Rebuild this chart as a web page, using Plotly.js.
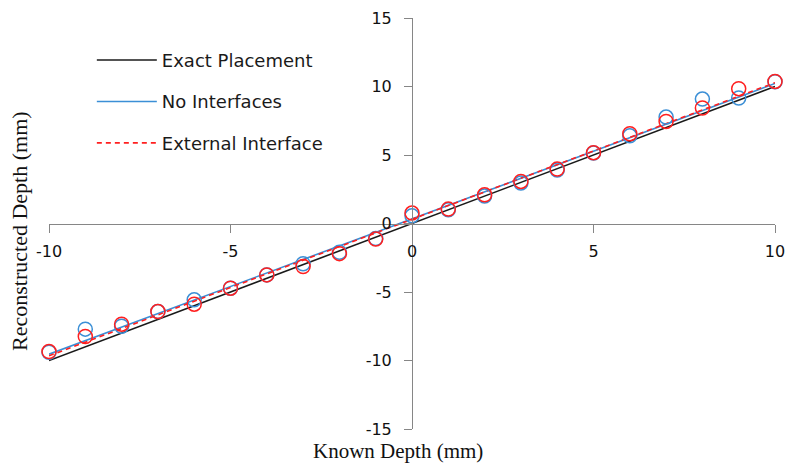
<!DOCTYPE html>
<html>
<head>
<meta charset="utf-8">
<script src="https://cdn.plot.ly/plotly-3.0.1.min.js"></script>
<style>
  html, body { margin: 0; padding: 0; background: #ffffff; }
  #chart { width: 791px; height: 469px; }
</style>
</head>
<body>
<div id="chart"></div>
<script>
// Known source depths (mm)
const knownDepth = [-10, -9, -8, -7, -6, -5, -4, -3, -2, -1, 0, 1, 2, 3, 4, 5, 6, 7, 8, 9, 10];

// Reconstructed depths (mm) without interfaces
const noInterfaces = [-9.40, -7.71, -7.50, -6.43, -5.57, -4.72, -3.75, -2.94, -2.10, -1.10, 0.56,
                      1.00, 2.00, 2.95, 3.90, 5.14, 6.40, 7.77, 9.08, 9.16, 10.35];

// Reconstructed depths (mm) with an external interface
const externalInterface = [-9.35, -8.25, -7.35, -6.43, -5.89, -4.72, -3.75, -3.14, -2.20, -1.14, 0.76,
                           1.05, 2.10, 3.07, 3.97, 5.17, 6.55, 7.45, 8.43, 9.84, 10.37];

// Reference and fitted lines, given by their end points
const lineX = [-10, 10];
const exactLine = [-10, 10];
const noInterfacesFit = [-9.54, 10.22];
const externalInterfaceFit = [-9.66, 10.28];

// Axis ticks (labels use a plain hyphen for negatives)
const xTicks = [-10, -5, 0, 5, 10];
const yTicks = [-15, -10, -5, 0, 5, 10, 15];
const xTickText = xTicks.map(String);
const yTickText = yTicks.map(String);

const BLUE = '#3b8fd6';
const RED = '#ff1f1f';
const AXIS = '#868686';
const SANS = 'DejaVu Sans, Verdana, sans-serif';
const SERIF = 'Liberation Serif, Times New Roman, serif';

const traces = [
  { x: lineX, y: exactLine, mode: 'lines', name: 'Exact Placement', legendgroup: 'a',
    line: { color: '#1a1a1a', width: 1.6 } },
  { x: lineX, y: noInterfacesFit, mode: 'lines', name: 'No Interfaces', legendgroup: 'b',
    line: { color: BLUE, width: 1.6 } },
  { x: lineX, y: externalInterfaceFit, mode: 'lines', name: 'External Interface', legendgroup: 'c',
    line: { color: RED, width: 1.6, dash: '5px,4px' } },
  { x: knownDepth, y: noInterfaces, mode: 'markers', showlegend: false, cliponaxis: false,
    marker: { symbol: 'circle-open', size: 14, color: BLUE, line: { width: 1.5 } } },
  { x: knownDepth, y: externalInterface, mode: 'markers', showlegend: false, cliponaxis: false,
    marker: { symbol: 'circle-open', size: 14, color: RED, line: { width: 1.5 } } }
];

const layout = {
  width: 791,
  height: 469,
  margin: { l: 49, r: 16, t: 18, b: 40, pad: 0 },
  paper_bgcolor: '#ffffff',
  plot_bgcolor: '#ffffff',
  showlegend: true,
  legend: {
    x: 0.059, y: 0.942, xanchor: 'left', yanchor: 'top',
    font: { family: SANS, size: 18, color: '#1a1a1a' },
    tracegroupgap: 15,
    itemwidth: 60,
    bgcolor: 'rgba(0,0,0,0)'
  },
  xaxis: {
    range: [-10, 10],
    anchor: 'free', position: 0.5,
    tickvals: xTicks, ticktext: xTickText,
    ticks: 'outside', ticklen: 8, tickcolor: AXIS, tickwidth: 1,
    ticklabelstandoff: 5,
    showline: true, linecolor: AXIS, linewidth: 1,
    showgrid: false, zeroline: false,
    tickfont: { family: SANS, size: 16, color: '#111111' }
  },
  yaxis: {
    range: [-15, 15],
    anchor: 'free', position: 0.5,
    tickvals: yTicks, ticktext: yTickText,
    ticks: 'outside', ticklen: 8, tickcolor: AXIS, tickwidth: 1,
    ticklabelstandoff: 9,
    showline: true, linecolor: AXIS, linewidth: 1,
    showgrid: false, zeroline: false,
    tickfont: { family: SANS, size: 16, color: '#111111' }
  },
  annotations: [
    { text: 'Reconstructed Depth (mm)', xref: 'paper', yref: 'paper', x: 0, y: 0.482,
      xanchor: 'center', yanchor: 'middle', xshift: -29, textangle: -90, showarrow: false,
      font: { family: SERIF, size: 22, color: '#111111' } },
    { text: 'Known Depth (mm)', xref: 'paper', yref: 'paper', x: 0.481, y: 0,
      xanchor: 'center', yanchor: 'middle', yshift: -22, showarrow: false,
      font: { family: SERIF, size: 21, color: '#111111' } }
  ]
};

Plotly.newPlot('chart', traces, layout, { displayModeBar: false, staticPlot: true });
</script>
</body>
</html>
